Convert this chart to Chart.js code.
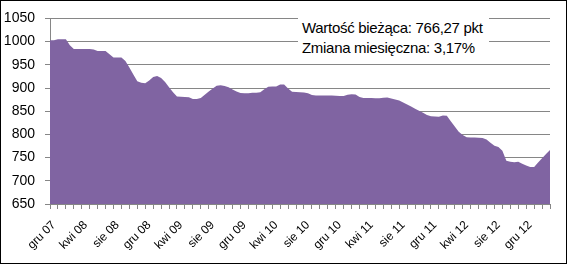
<!DOCTYPE html>
<html>
<head>
<meta charset="utf-8">
<script src="https://cdn.jsdelivr.net/npm/chart.js@4/dist/chart.umd.min.js"></script>
<style>
html, body { margin: 0; padding: 0; background: #fff; }
#wrap { position: relative; width: 568px; height: 266px; }
#info {
    position: absolute; left: 298px; top: 16px; width: 191px; height: 44px;
    background: #fff; box-sizing: border-box; padding: 1.5px 0 0 4px;
    font-family: "Liberation Sans", Arial, sans-serif; font-size: 15px;
    letter-spacing: -0.3px; line-height: 20.5px; color: #000; white-space: nowrap;
}
</style>
</head>
<body>
<div id="wrap">
    <canvas id="myChart" width="568" height="266"></canvas>
    <div id="info">
        <div>Wartość bieżąca: 766,27 pkt</div>
        <div>Zmiana miesięczna: 3,17%</div>
    </div>
</div>
<script>
// miesiące na osi (gru 07 - lut 13)
const monthLabels = [
    'gru 07',
    'sty 08', 'lut 08', 'mar 08', 'kwi 08', 'maj 08', 'cze 08', 'lip 08', 'sie 08', 'wrz 08', 'paź 08', 'lis 08', 'gru 08',
    'sty 09', 'lut 09', 'mar 09', 'kwi 09', 'maj 09', 'cze 09', 'lip 09', 'sie 09', 'wrz 09', 'paź 09', 'lis 09', 'gru 09',
    'sty 10', 'lut 10', 'mar 10', 'kwi 10', 'maj 10', 'cze 10', 'lip 10', 'sie 10', 'wrz 10', 'paź 10', 'lis 10', 'gru 10',
    'sty 11', 'lut 11', 'mar 11', 'kwi 11', 'maj 11', 'cze 11', 'lip 11', 'sie 11', 'wrz 11', 'paź 11', 'lis 11', 'gru 11',
    'sty 12', 'lut 12', 'mar 12', 'kwi 12', 'maj 12', 'cze 12', 'lip 12', 'sie 12', 'wrz 12', 'paź 12', 'lis 12', 'gru 12',
    'sty 13', 'lut 13'
];

// wartość jednostki co pół miesiąca
const values = [
    1003, 1003, 1005, 1005, 1005, 992, 984, 984, 984, 984,
    984, 983, 980, 980, 980, 973, 966, 966, 966, 958,
    944, 929, 914.5, 911.4, 910, 916, 923.5, 925.8, 921.5, 912.8,
    901.7, 890.6, 881.9, 881.3, 880.6, 880, 876.5, 876.5, 878.7, 885.4,
    892.2, 898.8, 905, 906, 904.4, 901.7, 897, 892.5, 889, 888.5,
    888.5, 890, 890, 890.6, 897.3, 902.6, 903, 903, 907.5, 907.5,
    899, 892, 891.5, 891, 890.5, 888.8, 885, 884, 884, 884,
    884, 884, 883.5, 882.5, 882.6, 885.6, 886.4, 885.8, 880.8, 878.6,
    878.5, 878.3, 878.1, 878, 879, 879.5, 877.4, 875.3, 873.2, 868.9,
    864.5, 860, 855.5, 851, 846.5, 842, 838.9, 838.5, 838, 841,
    840, 828.6, 817, 805.6, 798.8, 794, 793.5, 793.1, 792.7, 792.2,
    788.8, 782, 775.3, 772.7, 764.8, 743, 741, 740, 741, 736.8,
    733, 729.5, 729.8, 739.2, 748.6, 758, 766.3
];

const yTicks = [650, 700, 750, 800, 850, 900, 950, 1000, 1050];

const frame = {
    id: 'frame',
    beforeDraw(chart) {
        const c = chart.ctx;
        c.save();
        c.fillStyle = '#fff';
        c.fillRect(0, 0, chart.width, chart.height);
        c.restore();
    },
    afterDraw(chart) {
        const c = chart.ctx;
        c.save();
        c.strokeStyle = '#000';
        c.lineWidth = 1;
        c.strokeRect(0.5, 0.5, 566, 263);
        c.restore();
    }
};

const gridColor = '#868686';

let config = {
    type: 'line',
    data: {
        labels: monthLabels,
        datasets: [{
            label: 'Wartość',
            data: values.map((v, i) => ({ x: i, y: v })),
            xAxisID: 'xd',
            backgroundColor: '#8064A2',
            borderWidth: 0,
            pointRadius: 0,
            fill: 'start',
            tension: 0
        }]
    },
    options: {
        responsive: false,
        animation: false,
        devicePixelRatio: 1,
        layout: { padding: { left: 0, top: 14, right: 18, bottom: 0 } },
        plugins: { legend: { display: false }, tooltip: { enabled: false } },
        scales: {
            x: {
                type: 'category',
                offset: true,
                afterFit: (s) => { s.height = 62; },
                grid: { offset: true, drawOnChartArea: false, color: gridColor, tickLength: 5 },
                border: { color: gridColor },
                ticks: {
                    autoSkip: false,
                    minRotation: 45,
                    maxRotation: 45,
                    padding: 9,
                    color: '#000',
                    font: { family: 'Liberation Sans', size: 12 },
                    callback: (val, idx) => idx % 4 === 0 ? monthLabels[idx] : ''
                }
            },
            xd: {
                type: 'linear',
                display: false,
                min: 0,
                max: values.length - 1
            },
            y: {
                min: 650,
                max: 1050,
                afterFit: (s) => { s.width = 50; },
                afterBuildTicks: (s) => { s.ticks = yTicks.map(v => ({ value: v })); },
                grid: { color: gridColor, tickLength: 5 },
                border: { color: gridColor },
                ticks: {
                    padding: 10,
                    color: '#000',
                    font: { family: 'Liberation Sans', size: 14 },
                    callback: (value) => String(value)
                }
            }
        }
    },
    plugins: [frame]
};

let ctx = document.getElementById('myChart').getContext('2d');
var myChart = new Chart(ctx, config);
</script>
</body>
</html>
